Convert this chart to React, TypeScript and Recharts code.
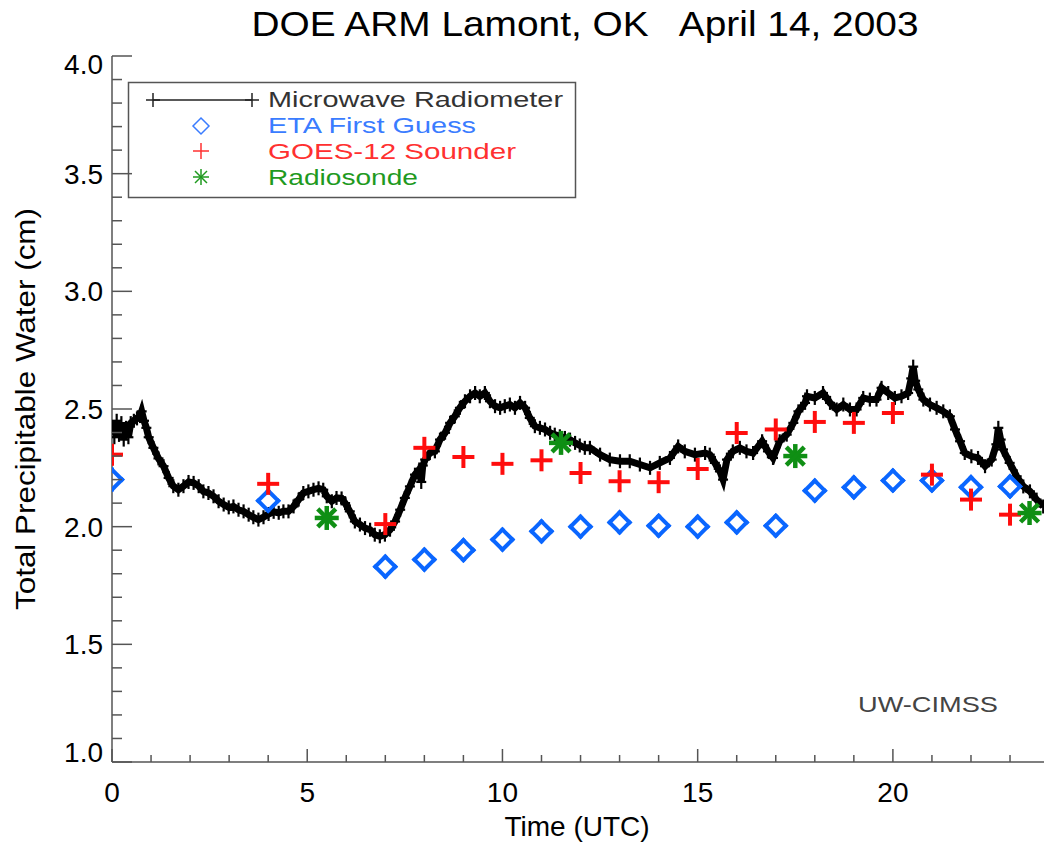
import React from "react";
import { ComposedChart, Line, Scatter, XAxis, YAxis } from "recharts";

// Microwave radiometer trace (hours UTC, cm)
const mwrHours = [
  0.0, 0.06, 0.12, 0.18, 0.24, 0.3, 0.36, 0.42, 0.48, 0.56, 0.64, 0.72, 0.76, 0.82, 0.88, 0.94,
  1.06, 1.19, 1.32, 1.45, 1.57, 1.7, 1.83, 1.96, 2.09, 2.22, 2.34, 2.47, 2.6, 2.73, 2.86, 2.99,
  3.11, 3.24, 3.37, 3.5, 3.62, 3.75, 3.88, 4.01, 4.14, 4.27, 4.39, 4.52, 4.65, 4.78, 4.9, 5.03,
  5.16, 5.29, 5.41, 5.5, 5.63, 5.75, 5.88, 5.97, 6.09, 6.22, 6.35, 6.48, 6.61, 6.73, 6.86, 6.99,
  7.12, 7.25, 7.38, 7.5, 7.63, 7.76, 7.87, 7.92, 7.96, 8.02, 8.14, 8.27, 8.4, 8.53, 8.66, 8.78,
  8.91, 9.04, 9.17, 9.3, 9.42, 9.55, 9.68, 9.81, 9.94, 10.06, 10.19, 10.32, 10.45, 10.58, 10.7,
  10.83, 10.96, 11.09, 11.22, 11.34, 11.47, 11.6, 11.73, 11.86, 11.98, 12.11, 12.24, 12.5, 12.75,
  13.01, 13.26, 13.52, 13.78, 14.03, 14.29, 14.5, 14.67, 14.93, 15.19, 15.31, 15.44, 15.57, 15.65,
  15.75, 15.9, 16.08, 16.25, 16.42, 16.65, 16.8, 16.93, 17.1, 17.28, 17.45, 17.58, 17.75, 17.8,
  18.0, 18.21, 18.39, 18.56, 18.73, 18.9, 19.07, 19.24, 19.41, 19.58, 19.71, 19.88, 20.05, 20.22,
  20.39, 20.47, 20.52, 20.57, 20.65, 20.78, 20.95, 21.12, 21.29, 21.46, 21.59, 21.72, 21.84, 22.01,
  22.18, 22.36, 22.53, 22.65, 22.7, 22.76, 22.82, 22.99, 23.17, 23.34, 23.51, 23.68, 23.85,
];
const mwrValues = [
  2.42, 2.38, 2.45, 2.39, 2.44, 2.37, 2.42, 2.38, 2.44, 2.45, 2.46, 2.47, 2.49, 2.45, 2.42, 2.38,
  2.335, 2.29, 2.257, 2.207, 2.172, 2.157, 2.172, 2.19, 2.186, 2.172, 2.15, 2.143, 2.129, 2.108, 2.094, 2.082,
  2.086, 2.072, 2.065, 2.051, 2.04, 2.03, 2.04, 2.054, 2.063, 2.059, 2.065, 2.065, 2.086, 2.115, 2.143, 2.15,
  2.157, 2.163, 2.157, 2.129, 2.108, 2.122, 2.12, 2.1, 2.065, 2.022, 2.009, 1.994, 1.987, 1.966, 1.959, 1.966,
  1.987, 2.022, 2.072, 2.122, 2.171, 2.221, 2.243, 2.19, 2.26, 2.285, 2.313, 2.32, 2.37, 2.399, 2.441, 2.469,
  2.505, 2.533, 2.554, 2.568, 2.554, 2.568, 2.533, 2.512, 2.505, 2.512, 2.519, 2.505, 2.526, 2.505, 2.462,
  2.427, 2.42, 2.413, 2.399, 2.391, 2.384, 2.377, 2.37, 2.356, 2.345, 2.335, 2.335, 2.306, 2.285,
  2.278, 2.278, 2.264, 2.25, 2.271, 2.292, 2.341, 2.32, 2.306, 2.313, 2.306, 2.271, 2.235, 2.2,
  2.285, 2.32, 2.335, 2.32, 2.313, 2.363, 2.32, 2.292, 2.363, 2.391, 2.441, 2.49, 2.526, 2.554,
  2.547, 2.568, 2.526, 2.498, 2.519, 2.498, 2.498, 2.547, 2.54, 2.54, 2.59, 2.568, 2.547, 2.554,
  2.568, 2.63, 2.68, 2.62, 2.583, 2.54, 2.519, 2.505, 2.49, 2.469, 2.413, 2.363, 2.313, 2.299,
  2.292, 2.257, 2.285, 2.35, 2.42, 2.37, 2.328, 2.271, 2.214, 2.171, 2.15, 2.115, 2.086,
];

const etaHours = [0, 4, 7, 8, 9, 10, 11, 12, 13, 14, 15, 16, 17, 18, 19, 20, 21, 22, 23];
const etaValues = [2.2, 2.11, 1.83, 1.86, 1.9, 1.945, 1.98, 2.0, 2.018, 2.004, 2.0, 2.018, 2.004, 2.153, 2.167, 2.196, 2.196, 2.168, 2.171];

const goesHours = [0, 4, 7, 8, 9, 10, 11, 12, 13, 14, 15, 16, 17, 18, 19, 20, 21, 22, 23];
const goesValues = [2.306, 2.182, 2.011, 2.335, 2.296, 2.267, 2.282, 2.228, 2.193, 2.189, 2.245, 2.398, 2.413, 2.445, 2.441, 2.483, 2.221, 2.115, 2.051];

const raobHours = [5.5, 11.5, 17.5, 23.5];
const raobValues = [2.037, 2.356, 2.3, 2.058];

const xTicks = [0, 1, 2, 3, 4, 5, 6, 7, 8, 9, 10, 11, 12, 13, 14, 15, 16, 17, 18, 19, 20, 21, 22, 23];
const xMajor = [0, 5, 10, 15, 20];
const yTicks = [
  1.0, 1.1, 1.2, 1.3, 1.4, 1.5, 1.6, 1.7, 1.8, 1.9, 2.0, 2.1, 2.2, 2.3, 2.4, 2.5,
  2.6, 2.7, 2.8, 2.9, 3.0, 3.1, 3.2, 3.3, 3.4, 3.5, 3.6, 3.7, 3.8, 3.9, 4.0,
];
const yMajor = [1.0, 1.5, 2.0, 2.5, 3.0, 3.5, 4.0];

const zip = (hs: number[], vs: number[]) => hs.map((h, i) => ({ h, v: vs[i] }));
const mwrData = zip(mwrHours, mwrValues);
const etaData = zip(etaHours, etaValues);
const goesData = zip(goesHours, goesValues);
const raobData = zip(raobHours, raobValues);

const AXIS = "#555";
const FONT = "'Liberation Sans', Arial, sans-serif";
const BLUE = "#0a66ff";
const RED = "#ff0d0d";
const GREEN = "#0f8f14";
// left edge of the plot frame in pixels: markers sitting on the axis get cut here
const LEFT_EDGE = 112;

const isMajor = (list: number[], v: number) => list.some((m) => Math.abs(m - v) < 1e-6);

// cut a segment at the left frame edge, like IDL clipping its symbols
function seg(x1: number, y1: number, x2: number, y2: number, key: string) {
  if (x1 < LEFT_EDGE && x2 < LEFT_EDGE) return null;
  if (x1 < LEFT_EDGE) {
    y1 = y1 + ((y2 - y1) * (LEFT_EDGE - x1)) / (x2 - x1);
    x1 = LEFT_EDGE;
  } else if (x2 < LEFT_EDGE) {
    y2 = y1 + ((y2 - y1) * (LEFT_EDGE - x1)) / (x2 - x1);
    x2 = LEFT_EDGE;
  }
  return <line key={key} x1={x1} y1={y1} x2={x2} y2={y2} />;
}

function BottomTick({ x, y, payload }: any) {
  const major = isMajor(xMajor, payload.value);
  return (
    <g>
      <line x1={x} x2={x} y1={y} y2={y - (major ? 13 : 7)} stroke={AXIS} strokeWidth={1.5} />
      {major ? (
        <text x={x} y={y + 40} textAnchor="middle" fontFamily={FONT} fontSize={28} fill="#000">
          {payload.value}
        </text>
      ) : null}
    </g>
  );
}

function TopTick({ x, y, payload }: any) {
  const major = isMajor(xMajor, payload.value);
  return <line x1={x} x2={x} y1={y} y2={y + (major ? 13 : 7)} stroke={AXIS} strokeWidth={1.5} />;
}

function LeftTick({ x, y, payload }: any) {
  const v = payload.value;
  const major = isMajor(yMajor, v);
  let dy = 10;
  if (v > 3.99) dy = 18;
  if (v < 1.01) dy = 0;
  return (
    <g>
      <line x1={x} x2={x + (major ? 20 : 10)} y1={y} y2={y} stroke={AXIS} strokeWidth={1.5} />
      {major ? (
        <text x={x - 9} y={y + dy} textAnchor="end" fontFamily={FONT} fontSize={28} fill="#000">
          {v.toFixed(1)}
        </text>
      ) : null}
    </g>
  );
}

function RightTick({ x, y, payload }: any) {
  const major = isMajor(yMajor, payload.value);
  return <line x1={x} x2={x - (major ? 20 : 10)} y1={y} y2={y} stroke={AXIS} strokeWidth={1.5} />;
}

function Diamond({ cx, cy }: any) {
  const r = 10;
  return (
    <g stroke={BLUE} strokeWidth={4} strokeLinecap="square">
      {seg(cx, cy - r, cx + r, cy, "a")}
      {seg(cx + r, cy, cx, cy + r, "b")}
      {seg(cx, cy + r, cx - r, cy, "c")}
      {seg(cx - r, cy, cx, cy - r, "d")}
    </g>
  );
}

function Cross({ cx, cy }: any) {
  const r = 11;
  return (
    <g stroke={RED} strokeWidth={4}>
      {seg(cx - r, cy, cx + r, cy, "h")}
      {seg(cx, cy - r, cx, cy + r, "v")}
    </g>
  );
}

function Star({ cx, cy }: any) {
  const r = 12;
  const d = 9;
  return (
    <g stroke={GREEN} strokeWidth={4.5}>
      <line x1={cx - r} x2={cx + r} y1={cy} y2={cy} />
      <line x1={cx} x2={cx} y1={cy - r} y2={cy + r} />
      <line x1={cx - d} x2={cx + d} y1={cy - d} y2={cy + d} />
      <line x1={cx - d} x2={cx + d} y1={cy + d} y2={cy - d} />
    </g>
  );
}

function MwrDot({ cx, cy }: any) {
  if (cx == null || cy == null) return <g />;
  return (
    <g stroke="#000" strokeWidth={2.2}>
      <line x1={Math.max(cx - 5, LEFT_EDGE)} x2={cx + 5} y1={cy} y2={cy} />
      <line x1={cx} x2={cx} y1={cy - 7} y2={cy + 7} />
    </g>
  );
}

function Overlay() {
  const legendFont = "'Liberation Sans', Arial, sans-serif";
  return (
    <svg width={1045} height={845} style={{ position: "absolute", left: 0, top: 0, pointerEvents: "none" }}>
      <text x={585} y={36} textAnchor="middle" fontFamily={FONT} fontSize={35} fill="#000"
        textLength={667} lengthAdjust="spacingAndGlyphs" style={{ whiteSpace: "pre" }}>
        {"DOE ARM Lamont, OK   April 14, 2003"}
      </text>
      <text transform="translate(35,409) rotate(-90)" textAnchor="middle" fontFamily={FONT} fontSize={28}
        fill="#000" textLength={402} lengthAdjust="spacingAndGlyphs">
        Total Precipitable Water (cm)
      </text>
      <text x={577} y={836} textAnchor="middle" fontFamily={FONT} fontSize={28} fill="#000">
        Time (UTC)
      </text>
      <text x={858} y={712} fontFamily={legendFont} fontSize={22} fill="#444" textLength={140} lengthAdjust="spacingAndGlyphs">
        UW-CIMSS
      </text>

      <rect x={128.5} y={82.5} width={447} height={115} fill="none" stroke={AXIS} strokeWidth={1.5} />
      <g stroke="#222" strokeWidth={1.5}>
        <line x1={153} x2={252} y1={100} y2={100} />
        <line x1={153} x2={153} y1={93} y2={107} />
        <line x1={252} x2={252} y1={93} y2={107} />
        <line x1={146} x2={160} y1={100} y2={100} />
        <line x1={245} x2={259} y1={100} y2={100} />
      </g>
      <polygon points="201,118 209,126 201,134 193,126" fill="none" stroke="#3a7cff" strokeWidth={1.5} />
      <g stroke="#ff3030" strokeWidth={1.5}>
        <line x1={193} x2={209} y1={151} y2={151} />
        <line x1={201} x2={201} y1={143} y2={159} />
      </g>
      <g stroke="#1f9a1f" strokeWidth={1.5}>
        <line x1={193} x2={209} y1={177} y2={177} />
        <line x1={201} x2={201} y1={169} y2={185} />
        <line x1={195} x2={207} y1={171} y2={183} />
        <line x1={195} x2={207} y1={183} y2={171} />
      </g>
      <text x={268} y={107} fontFamily={legendFont} fontSize={22} fill="#333" textLength={295} lengthAdjust="spacingAndGlyphs">
        Microwave Radiometer
      </text>
      <text x={268} y={133} fontFamily={legendFont} fontSize={22} fill="#3a7cff" textLength={208} lengthAdjust="spacingAndGlyphs">
        ETA First Guess
      </text>
      <text x={268} y={159} fontFamily={legendFont} fontSize={22} fill="#ff3030" textLength={248} lengthAdjust="spacingAndGlyphs">
        GOES-12 Sounder
      </text>
      <text x={268} y={185} fontFamily={legendFont} fontSize={22} fill="#1f9a1f" textLength={150} lengthAdjust="spacingAndGlyphs">
        Radiosonde
      </text>
    </svg>
  );
}

export default function App() {
  return (
    <div style={{ position: "absolute", left: 0, top: 0, width: 1045, height: 845, background: "#fff" }}>
      <ComposedChart width={1045} height={845} margin={{ top: 56, right: 1, bottom: 0, left: 0 }}>
        <XAxis
          xAxisId="b"
          dataKey="h"
          type="number"
          domain={[0, 23.87]}
          allowDataOverflow
          ticks={xTicks}
          interval={0}
          height={83}
          tickSize={0}
          tickMargin={0}
          tickLine={false}
          axisLine={{ stroke: AXIS, strokeWidth: 1.5 }}
          tick={<BottomTick />}
        />
        <XAxis
          xAxisId="t"
          dataKey="h"
          type="number"
          orientation="top"
          domain={[0, 23.87]}
          allowDataOverflow
          ticks={xTicks}
          interval={0}
          height={0}
          tickSize={0}
          tickMargin={0}
          tickLine={false}
          axisLine={{ stroke: AXIS, strokeWidth: 1.5 }}
          tick={<TopTick />}
        />
        <YAxis
          yAxisId="l"
          type="number"
          domain={[1, 4]}
          allowDataOverflow
          ticks={yTicks}
          interval={0}
          width={112}
          tickSize={0}
          tickMargin={0}
          tickLine={false}
          axisLine={{ stroke: AXIS, strokeWidth: 1.5 }}
          tick={<LeftTick />}
        />
        <YAxis
          yAxisId="r"
          type="number"
          orientation="right"
          domain={[1, 4]}
          allowDataOverflow
          ticks={yTicks}
          interval={0}
          width={0}
          tickSize={0}
          tickMargin={0}
          tickLine={false}
          axisLine={{ stroke: AXIS, strokeWidth: 1.5 }}
          tick={<RightTick />}
        />
        <Line
          xAxisId="b"
          yAxisId="l"
          data={mwrData}
          dataKey="v"
          type="linear"
          stroke="#000"
          strokeWidth={7}
          dot={<MwrDot />}
          isAnimationActive={false}
        />
        <Scatter xAxisId="b" yAxisId="l" data={etaData} dataKey="v" shape={<Diamond />} isAnimationActive={false} />
        <Scatter xAxisId="b" yAxisId="l" data={goesData} dataKey="v" shape={<Cross />} isAnimationActive={false} />
        <Scatter xAxisId="b" yAxisId="l" data={raobData} dataKey="v" shape={<Star />} isAnimationActive={false} />
      </ComposedChart>
      <Overlay />
    </div>
  );
}
